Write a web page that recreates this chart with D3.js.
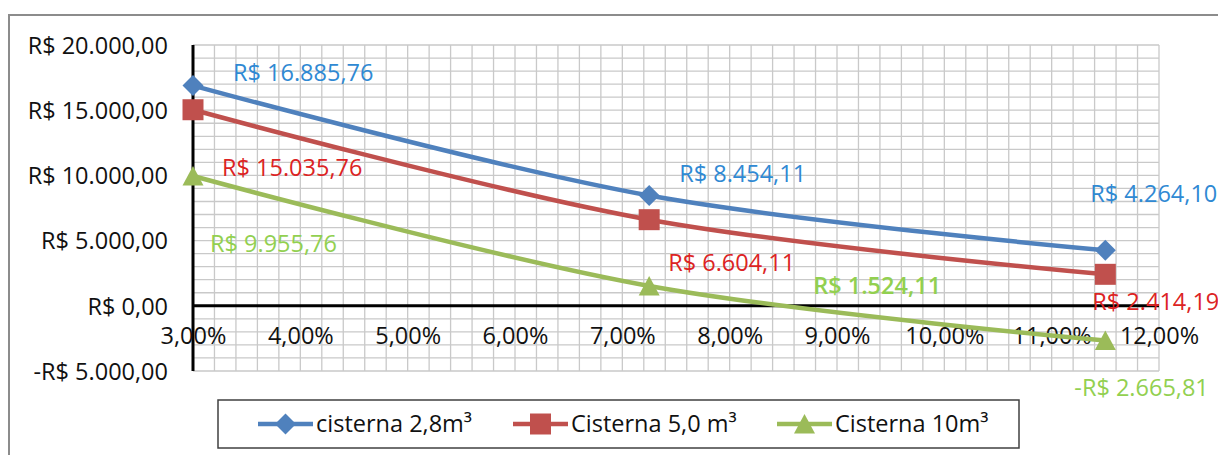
<!DOCTYPE html>
<html>
<head>
<meta charset="utf-8">
<script src="https://cdn.jsdelivr.net/npm/d3@7/dist/d3.min.js"></script>
<style>
  html, body { margin: 0; padding: 0; background: #fff; }
  svg { display: block; }
  text { font-family: "Open Sans", "Noto Sans", sans-serif; }
</style>
</head>
<body>
<svg id="chart" width="1218" height="455"></svg>
<script>
// Taxa de juros (%) e valor presente por volume de cisterna
const rates = [3.0, 7.25, 11.5];
const seriesNames = ["cisterna 2,8m³", "Cisterna 5,0 m³", "Cisterna 10m³"];
const cisterna28 = [16885.76, 8454.11, 4264.10];
const cisterna50 = [15035.76, 6604.11, 2414.19];
const cisterna10 = [9955.76, 1524.11, -2665.81];
const valueLabels = [
  ["R$ 16.885,76", "R$ 8.454,11", "R$ 4.264,10"],
  ["R$ 15.035,76", "R$ 6.604,11", "R$ 2.414,19"],
  ["R$ 9.955,76", "R$ 1.524,11", "-R$ 2.665,81"]
];
const yTicks = [-5000, 0, 5000, 10000, 15000, 20000];
const yTickLabels = ["-R$ 5.000,00", "R$ 0,00", "R$ 5.000,00", "R$ 10.000,00", "R$ 15.000,00", "R$ 20.000,00"];
const xTicks = [3, 4, 5, 6, 7, 8, 9, 10, 11, 12];
const xTickLabels = ["3,00%", "4,00%", "5,00%", "6,00%", "7,00%", "8,00%", "9,00%", "10,00%", "11,00%", "12,00%"];

const seriesValues = [cisterna28, cisterna50, cisterna10];
const lineColors = ["#4F81BD", "#C0504D", "#9BBB59"];
const labelColors = ["#2F89D3", "#DC2323", "#92D050"];
const FONT = 23.5;

// marker shapes: diamond, square, triangle (sized in px)
const markerPath = [
  "M0,-10.5L10.5,0L0,10.5L-10.5,0Z",
  "M-10.5,-10.5H10.5V10.5H-10.5Z",
  "M0,-10L10.5,9.5H-10.5Z"
];
// label offsets relative to each point: [dx to text start, dy to text middle]
const labelOffsets = [
  [[40, -13], [30, -22], [-15, -56]],
  [[29, 58], [19, 43], [-13, 27]],
  [[17, 68], [164, 0], [-31, 47]]
];

const svg = d3.select("#chart");
const plot = { left: 193, right: 1159, top: 45, bottom: 371 };

const x = d3.scaleLinear().domain([3, 12]).range([plot.left, plot.right]);
const y = d3.scaleLinear().domain([-5000, 20000]).range([plot.bottom, plot.top]);

// chart frame
svg.append("rect")
  .attr("x", 9).attr("y", 15).attr("width", 1300).attr("height", 500)
  .attr("fill", "#fff").attr("stroke", "#8C8C8C").attr("stroke-width", 2);

// minor gridlines
const grid = svg.append("g").attr("stroke", "#C9C9C9").attr("stroke-width", 1.3);
grid.selectAll("line.h").data(d3.range(-5000, 20001, 1000)).join("line")
  .attr("x1", plot.left).attr("x2", plot.right)
  .attr("y1", d => y(d)).attr("y2", d => y(d));
grid.selectAll("line.v").data(d3.range(0, 46).map(i => 3 + i * 0.2)).join("line")
  .attr("y1", plot.top).attr("y2", plot.bottom)
  .attr("x1", d => x(d)).attr("x2", d => x(d));

// y axis
const yAxis = d3.axisLeft(y).tickValues(yTicks)
  .tickFormat((d, i) => yTickLabels[i]).tickSize(0).tickPadding(25);
const gy = svg.append("g").attr("transform", `translate(${plot.left},0)`).call(yAxis);
gy.select(".domain").remove();
gy.selectAll("text").attr("font-size", FONT).attr("fill", "#111").attr("dy", "0.35em");
svg.append("line").attr("x1", plot.left).attr("x2", plot.left)
  .attr("y1", plot.top).attr("y2", plot.bottom)
  .attr("stroke", "#000").attr("stroke-width", 3);

// x axis at zero
const xAxis = d3.axisBottom(x).tickValues(xTicks)
  .tickFormat((d, i) => xTickLabels[i]).tickSize(0).tickPadding(22);
const gx = svg.append("g").attr("transform", `translate(0,${y(0)})`).call(xAxis);
gx.select(".domain").remove();
gx.selectAll("text").attr("font-size", FONT).attr("fill", "#111");
svg.append("line").attr("x1", plot.left).attr("x2", plot.right)
  .attr("y1", y(0)).attr("y2", y(0))
  .attr("stroke", "#000").attr("stroke-width", 3);

// series lines
const line = d3.line().x((d, i) => x(rates[i])).y(d => y(d)).curve(d3.curveCatmullRom.alpha(0.5));
seriesValues.forEach((vals, s) => {
  svg.append("path").datum(vals).attr("d", line)
    .attr("fill", "none").attr("stroke", lineColors[s]).attr("stroke-width", 4.5);
});

// markers
seriesValues.forEach((vals, s) => {
  svg.append("g").selectAll("path").data(vals).join("path")
    .attr("transform", (d, i) => `translate(${x(rates[i])},${y(d)})`)
    .attr("d", markerPath[s])
    .attr("fill", lineColors[s]);
});

// value labels
seriesValues.forEach((vals, s) => {
  svg.append("g").selectAll("text").data(vals).join("text")
    .attr("x", (d, i) => x(rates[i]) + labelOffsets[s][i][0])
    .attr("y", (d, i) => y(d) + labelOffsets[s][i][1])
    .attr("dy", "0.35em")
    .attr("font-size", FONT)
    .attr("font-weight", (d, i) => (s === 2 && i === 1) ? 600 : 400)
    .attr("fill", labelColors[s])
    .text((d, i) => valueLabels[s][i]);
});

// legend
const legend = svg.append("g");
legend.append("rect").attr("x", 218).attr("y", 400).attr("width", 801).attr("height", 48)
  .attr("fill", "#fff").attr("stroke", "#404040").attr("stroke-width", 1.5);
const legendX = [258, 513, 777];
seriesNames.forEach((name, s) => {
  const g = legend.append("g").attr("transform", `translate(${legendX[s]},424)`);
  g.append("line").attr("x1", 0).attr("x2", 55).attr("y1", 0).attr("y2", 0)
    .attr("stroke", lineColors[s]).attr("stroke-width", 4.5);
  g.append("path").attr("transform", "translate(27.5,0)")
    .attr("d", markerPath[s])
    .attr("fill", lineColors[s]);
  g.append("text").attr("x", 58).attr("y", 0).attr("dy", "0.35em")
    .attr("font-size", FONT).attr("fill", "#111").text(name);
});
</script>
</body>
</html>
